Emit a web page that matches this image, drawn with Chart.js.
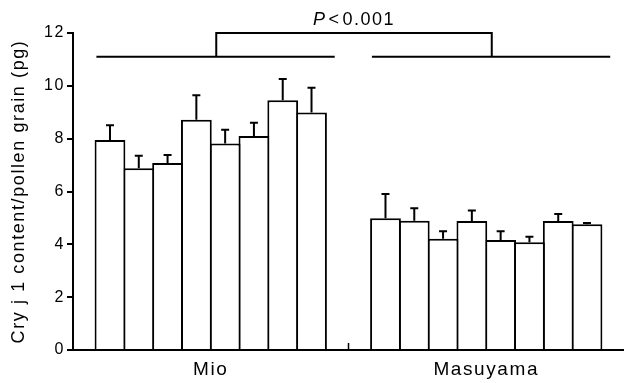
<!DOCTYPE html>
<html>
<head>
<meta charset="utf-8">
<script src="https://cdn.jsdelivr.net/npm/chart.js@4.4.0/dist/chart.umd.min.js"></script>
<style>
    html, body { margin: 0; padding: 0; background: #fff; }
    #wrap { width: 624px; height: 383px; }
</style>
</head>
<body>
<div id="wrap"><canvas id="cryChart"></canvas></div>
<script>
// data
const categories = ['Mio', 'Masuyama'];
const mioMeans = [7.95, 6.88, 7.08, 8.72, 7.82, 8.10, 9.45, 8.99];
const mioErrors = [0.56, 0.47, 0.30, 0.92, 0.52, 0.50, 0.81, 0.94];
const masuyamaMeans = [4.99, 4.89, 4.21, 4.88, 4.16, 4.08, 4.88, 4.76];
const masuyamaErrors = [0.92, 0.48, 0.29, 0.40, 0.34, 0.21, 0.27, 0.05];
const yTicks = [0, 2, 4, 6, 8, 10, 12];
const bracketLevels = [11.1, 12];
const pLabel = ['P', '<', '0.001'];
const yTitle = 'Cry j 1 content/pollen grain (pg)';

const FONT = '"Liberation Sans", Arial, Helvetica, sans-serif';
const SPACING = '1.6px';

// one dataset per sample, each with a Mio and a Masuyama bar
const datasets = mioMeans.map((m, i) => ({
    label: 'Sample ' + (i + 1),
    data: [m, masuyamaMeans[i]],
    errors: [mioErrors[i], masuyamaErrors[i]],
    backgroundColor: '#fff',
    borderColor: '#000',
    borderWidth: 2,
    borderSkipped: 'start'
}));

const letterSpacing = {
    id: 'letterSpacing',
    beforeUpdate(chart) { chart.ctx.letterSpacing = SPACING; },
    beforeDraw(chart) { chart.ctx.letterSpacing = SPACING; }
};

const errorBars = {
    id: 'errorBars',
    afterDatasetsDraw(chart) {
        const ctx = chart.ctx;
        const y = chart.scales.y;
        ctx.save();
        ctx.strokeStyle = '#000';
        ctx.lineWidth = 2;
        chart.data.datasets.forEach((ds, i) => {
            chart.getDatasetMeta(i).data.forEach((bar, j) => {
                const top = y.getPixelForValue(ds.data[j] + ds.errors[j]);
                ctx.beginPath();
                ctx.moveTo(bar.x, bar.y);
                ctx.lineTo(bar.x, top);
                ctx.moveTo(bar.x - 4, top);
                ctx.lineTo(bar.x + 4, top);
                ctx.stroke();
            });
        });
        ctx.restore();
    }
};

const bracket = {
    id: 'bracket',
    afterDraw(chart) {
        const ctx = chart.ctx;
        const x = chart.scales.x, y = chart.scales.y;
        const cw = x.getPixelForValue(1) - x.getPixelForValue(0);
        const low = y.getPixelForValue(bracketLevels[0]);
        const high = y.getPixelForValue(bracketLevels[1]);
        ctx.save();
        ctx.strokeStyle = '#000';
        ctx.lineWidth = 2;
        const mids = categories.map((c, i) => {
            const c0 = x.getPixelForValue(i);
            const start = c0 - 0.415 * cw, end = c0 + 0.45 * cw;
            ctx.beginPath();
            ctx.moveTo(start, low);
            ctx.lineTo(end, low);
            ctx.stroke();
            return c0 + 0.02 * cw;
        });
        ctx.beginPath();
        ctx.moveTo(mids[0], low);
        ctx.lineTo(mids[0], high);
        ctx.lineTo(mids[1], high);
        ctx.lineTo(mids[1], low);
        ctx.stroke();

        // separator tick between the two groups on the x axis
        const sep = (x.getPixelForValue(0) + x.getPixelForValue(1)) / 2;
        ctx.lineWidth = 1.5;
        ctx.beginPath();
        ctx.moveTo(sep, x.top);
        ctx.lineTo(sep, x.top - 7);
        ctx.stroke();

        // P value label, italic P
        ctx.letterSpacing = '1.5px';
        ctx.fillStyle = '#000';
        ctx.textBaseline = 'alphabetic';
        const fonts = ['italic 18px ' + FONT, '18px ' + FONT, '18px ' + FONT];
        const gap = 2;
        const widths = pLabel.map((t, k) => { ctx.font = fonts[k]; return ctx.measureText(t).width; });
        const total = widths.reduce((a, b) => a + b, 0) + gap * (pLabel.length - 1);
        let px = (mids[0] + mids[1]) / 2 - total / 2;
        pLabel.forEach((t, k) => {
            ctx.font = fonts[k];
            ctx.fillText(t, px, high - 8);
            px += widths[k] + gap;
        });
        ctx.restore();
    }
};

const ctx = document.getElementById('cryChart').getContext('2d');
new Chart(ctx, {
    type: 'bar',
    data: { labels: categories, datasets: datasets },
    options: {
        responsive: true,
        maintainAspectRatio: false,
        animation: false,
        // bars overlap by one border width so shared edges stay 2px
        barPercentage: 1.069,
        categoryPercentage: 0.836,
        layout: { padding: { top: 33, right: -4, bottom: 0, left: 0 } },
        plugins: {
            legend: { display: false },
            tooltip: { enabled: false }
        },
        scales: {
            x: {
                grid: { display: false },
                border: { display: true, color: '#000', width: 2 },
                ticks: {
                    color: '#000',
                    font: { family: FONT, size: 19 },
                    padding: 0,
                    maxRotation: 0
                },
                afterFit(scale) { scale.height = 33; }
            },
            y: {
                min: yTicks[0],
                max: yTicks[yTicks.length - 1],
                afterBuildTicks(scale) { scale.ticks = yTicks.map(v => ({ value: v })); },
                grid: {
                    display: true,
                    drawOnChartArea: false,
                    drawTicks: true,
                    tickLength: 6,
                    color: '#000',
                    lineWidth: 2
                },
                border: { display: true, color: '#000', width: 2 },
                ticks: {
                    color: '#000',
                    font: { family: FONT, size: 16 },
                    padding: 2
                },
                title: {
                    display: true,
                    text: yTitle,
                    color: '#000',
                    font: { family: FONT, size: 18 },
                    padding: { top: 8, bottom: 0 }
                },
                afterFit(scale) { scale.width = 73; }
            }
        }
    },
    plugins: [letterSpacing, errorBars, bracket]
});
</script>
</body>
</html>
